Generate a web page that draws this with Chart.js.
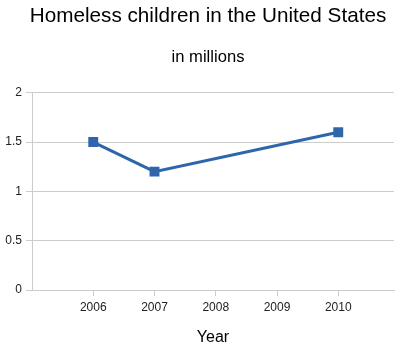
<!DOCTYPE html>
<html>
<head>
<meta charset="utf-8">
<script src="https://cdn.jsdelivr.net/npm/chart.js@4"></script>
<style>
  html, body { margin: 0; padding: 0; background: #fff; }
  #wrap { width: 416px; height: 351px; }
</style>
</head>
<body>
<div id="wrap"><canvas id="c" width="416" height="351"></canvas></div>
<script>
const titleText = "Homeless children in the United States";
const subtitleText = "in millions";
const xTitle = "Year";
const years = [2006, 2007, 2008, 2009, 2010];
const values = [1.5, 1.2, null, null, 1.6];
const yTicks = [0, 0.5, 1, 1.5, 2];

const points = years.map((y, i) => ({ x: y, y: values[i] }));
const FONT = "'Liberation Sans', Arial, sans-serif";

new Chart(document.getElementById('c'), {
  type: 'line',
  data: {
    datasets: [{
      data: points,
      borderColor: '#2f66ab',
      backgroundColor: '#2f66ab',
      borderWidth: 3,
      pointStyle: 'rect',
      pointRadius: 7,
      pointBorderWidth: 0,
      pointHoverRadius: 7,
      spanGaps: true,
      tension: 0
    }]
  },
  options: {
    responsive: false,
    animation: false,
    events: [],
    layout: { padding: 0 },
    plugins: {
      legend: { display: false },
      tooltip: { enabled: false },
      title: {
        display: true, text: titleText, color: '#000',
        font: { family: FONT, size: 20.7, weight: 'normal' },
        padding: { top: 4, bottom: 18 }
      },
      subtitle: {
        display: true, text: subtitleText, color: '#000',
        font: { family: FONT, size: 16.6, weight: 'normal' },
        padding: { top: 1, bottom: 25 }
      }
    },
    scales: {
      x: {
        type: 'linear',
        min: 2005, max: 2010.91,
        afterBuildTicks: s => { s.ticks = years.map(v => ({ value: v })); },
        afterFit: s => { s.height = 61; },
        grid: { drawOnChartArea: false, drawTicks: true, tickLength: 6, color: '#cccccc' },
        border: { display: true, color: '#cccccc' },
        ticks: {
          color: '#222', padding: 4, maxRotation: 0, autoSkip: false,
          font: { family: FONT, size: 12 },
          callback: v => String(v)
        },
        title: {
          display: true, text: xTitle, color: '#000',
          font: { family: FONT, size: 16 },
          padding: { top: 0, bottom: 4 }
        }
      },
      y: {
        min: 0, max: 2,
        afterBuildTicks: s => { s.ticks = yTicks.map(v => ({ value: v })); },
        afterFit: s => { s.width = 32; },
        grid: { color: '#cccccc', tickLength: 6, drawTicks: true },
        border: { display: true, color: '#cccccc' },
        ticks: {
          color: '#222', padding: 4,
          font: { family: FONT, size: 12 },
          callback: v => String(v)
        }
      },
      yRight: {
        position: 'right',
        display: true,
        min: 0, max: 2,
        afterFit: s => { s.width = 22; },
        grid: { display: false, drawOnChartArea: false },
        border: { display: false },
        ticks: { display: false }
      }
    }
  }
});
</script>
</body>
</html>
